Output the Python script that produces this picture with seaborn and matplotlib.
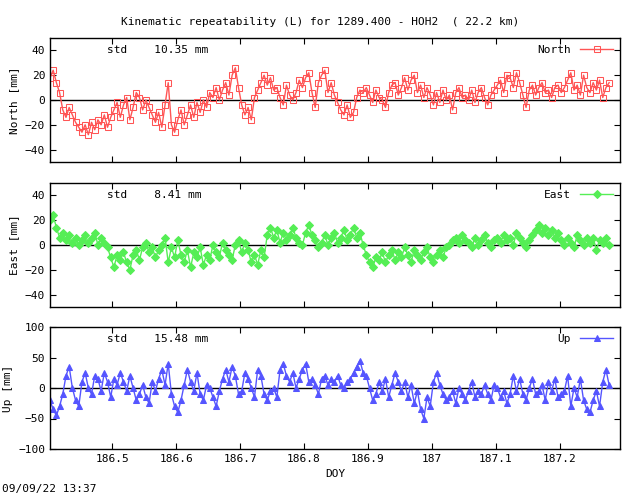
import numpy as np
import pandas as pd
import matplotlib
matplotlib.use("Agg")
import matplotlib.pyplot as plt
import seaborn as sns

day_start = 186.4025
day_step = 0.005

north = [18,24,14,6,-8,-14,-6,-12,-18,-22,
         -26,-20,-28,-18,-24,-16,-20,-12,-22,-14,
         -8,-2,-14,-4,2,-16,-6,6,2,-8,
         0,-6,-12,-18,-10,-22,-4,14,-20,-26,
         -16,-8,-20,-12,-4,-14,-2,-10,0,-6,
         6,2,10,0,8,14,4,20,26,10,
         -4,-12,-6,-16,2,8,14,20,12,18,
         8,10,2,-4,12,4,0,6,16,10,
         18,22,6,-6,14,20,24,6,14,4,
         -2,-8,-12,-4,-14,-10,2,8,6,10,
         4,-2,8,2,0,-6,6,12,14,4,
         10,18,8,16,20,6,12,2,10,4,
         -4,6,-2,8,0,4,-8,6,10,2,
         4,0,8,-2,6,10,2,-4,4,8,
         12,16,6,20,18,10,22,14,4,-6,
         8,12,4,10,14,6,8,2,10,12,
         6,10,16,22,8,12,4,20,10,6,
         14,8,16,2,10,14]
east = [20,24,14,6,10,4,8,2,6,0,
        4,8,2,6,10,0,6,2,-2,-10,
        -18,-8,-12,-6,-14,-20,-8,-4,-12,-2,
        2,-6,-2,-10,-4,0,6,-14,-2,-10,
        4,-8,-14,-4,-18,-6,-10,-2,-16,-8,
        -12,0,-6,-10,2,-4,-8,-12,0,4,
        -6,2,-4,-14,-8,-16,-4,-10,8,14,
        6,12,2,10,4,8,14,6,2,0,
        10,16,8,4,-2,2,8,0,6,10,
        2,6,12,4,8,14,6,10,0,-8,
        -14,-18,-10,-12,-6,-14,-8,-4,-12,-6,
        -10,-2,-8,-14,-4,-8,-12,-6,-2,-10,
        -14,-8,-4,-10,-2,0,4,6,2,8,
        4,2,-2,6,0,4,8,2,-2,4,
        6,2,8,4,6,0,10,6,2,-2,
        4,8,12,16,10,14,8,12,6,10,
        4,0,6,2,-2,8,4,0,6,2,
        6,-4,4,2,6,0]
up = [-20,-35,-45,-30,-10,20,35,0,-20,-30,
      10,25,0,-10,20,15,-5,25,10,-15,
      15,5,25,10,-5,20,0,-20,-10,5,
      -15,-25,10,-5,15,30,5,40,-10,-30,
      -40,-20,5,30,10,-5,25,-10,-20,5,
      0,-15,-30,-5,15,30,10,35,20,-10,
      -5,25,15,0,-15,30,20,-10,-20,-5,
      0,-15,30,40,20,10,25,0,15,30,
      40,10,15,5,-10,15,20,5,15,10,
      20,5,0,10,15,25,35,45,25,20,
      0,-20,-10,10,-5,15,-15,5,25,10,
      -5,10,-15,5,-25,-5,-35,-50,-15,-30,
      10,25,5,-10,-20,-15,-5,-25,0,-10,
      -20,-5,10,-15,-5,-10,5,-10,-20,5,
      0,-15,-5,-25,-10,20,-5,15,-10,-20,
      0,15,-10,-5,5,-20,10,-5,15,-15,
      -10,-5,20,-30,0,-15,15,-20,-35,-40,
      -20,-5,-30,10,30,5]

names = ["North", "East", "Up"]
stds = ["10.35", "8.41", "15.48"]
ylims = [(-50, 50), (-50, 50), (-100, 100)]
yticks = [[-40, -20, 0, 20, 40], [-40, -20, 0, 20, 40], [-100, -50, 0, 50, 100]]
colors = ["#ff5555", "#55ee55", "#5555ff"]
markers = ["s", "D", "^"]
xticks = [186.5, 186.6, 186.7, 186.8, 186.9, 187.0, 187.1, 187.2]
xticklabels = ["186.5", "186.6", "186.7", "186.8", "186.9", "187", "187.1", "187.2"]

days = day_start + day_step * np.arange(len(north))
font = "DejaVu Sans Mono"
plt.rcParams["font.family"] = font
plt.rcParams["font.size"] = 8

fig = plt.figure(figsize=(6.4, 4.96), dpi=100)
boxes = [(38, 162), (183, 307), (327, 449)]
for i, (vals, name) in enumerate(zip([north, east, up], names)):
    top, bot = boxes[i]
    ax = fig.add_axes([50/640, 1-bot/496, 570/640, (bot-top)/496])
    df = pd.DataFrame({"day": days, "val": vals})
    ax.axhline(0, color="black", lw=1, zorder=1)
    sns.lineplot(data=df, x="day", y="val", ax=ax, color=colors[i], lw=1,
                 marker=markers[i], markersize=4,
                 markerfacecolor="none" if i == 0 else colors[i],
                 markeredgecolor=colors[i], label=name, zorder=2)
    ax.set_xlim(186.4025, 187.2945)
    ax.set_ylim(*ylims[i])
    ax.set_yticks(yticks[i])
    ax.set_xticks(xticks)
    ax.set_xticklabels(xticklabels if i == 2 else [])
    ax.tick_params(direction="in", length=4, top=True, right=True, labelsize=8)
    ax.set_ylabel(f"{name} [mm]", fontsize=8)
    ax.set_xlabel("DOY" if i == 2 else "", fontsize=8)
    ax.text(0.1, 0.9, f"std    {stds[i]} mm", transform=ax.transAxes, fontsize=8, va="center")
    leg = ax.legend(loc="upper right", frameon=False, markerfirst=False,
                    handlelength=3, fontsize=8, borderaxespad=0.2)
    for sp in ax.spines.values():
        sp.set_linewidth(1)

fig.text(0.5, 1-22/496, "Kinematic repeatability (L) for 1289.400 - HOH2  ( 22.2 km)",
         ha="center", va="center", fontsize=8)
fig.text(2/640, 1-489/496, "09/09/22 13:37", ha="left", va="center", fontsize=8)
fig.savefig("out.png", dpi=100)
